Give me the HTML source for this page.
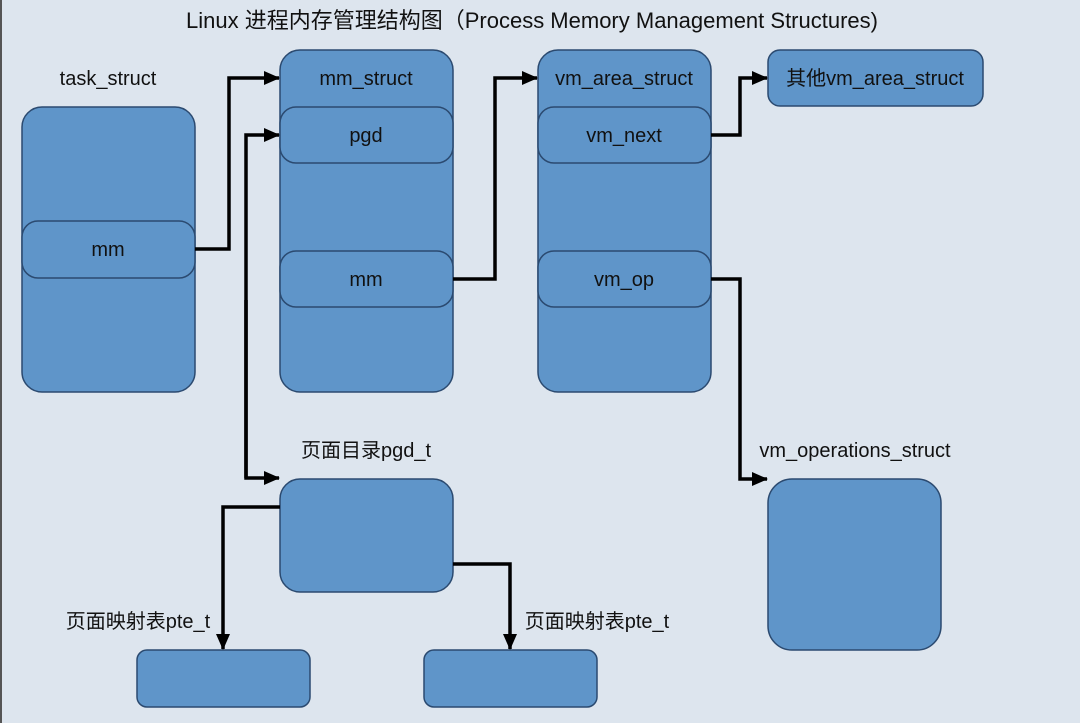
<!DOCTYPE html>
<html><head><meta charset="utf-8"><style>
body{margin:0;background:#dde5ee;}
svg{display:block}
text{font-family:"Liberation Sans","Noto Sans CJK SC",sans-serif;fill:#111;font-size:20px}
.b{fill:#5f95c9;stroke:#2b4a70;stroke-width:1.5}
</style></head><body>
<svg width="1080" height="723" viewBox="0 0 1080 723">
<defs><marker id="a" markerWidth="10" markerHeight="10" refX="9" refY="5" orient="auto" markerUnits="userSpaceOnUse" viewBox="0 0 10 10"><path d="M0,0L10,5L0,10z" fill="#000"/></marker>
<marker id="h" markerWidth="16" markerHeight="16" refX="15" refY="8" orient="auto" markerUnits="userSpaceOnUse" viewBox="0 0 16 16"><path d="M0,1L16,8L0,15z" fill="#000"/></marker></defs>
<rect x="0" y="0" width="1080" height="723" fill="#dde5ee"/>
<line x1="1" y1="0" x2="1" y2="723" stroke="#555" stroke-width="2"/>
<text x="532" y="28" text-anchor="middle" font-size="22" style="font-size:22px">Linux 进程内存管理结构图（Process Memory Management Structures)</text>
<text x="108" y="85" text-anchor="middle">task_struct</text>
<rect class="b" x="22" y="107" width="173" height="285" rx="20"/>
<rect class="b" x="22" y="221" width="173" height="57" rx="16"/>
<text x="108" y="256" text-anchor="middle">mm</text>
<rect class="b" x="280" y="50" width="173" height="342" rx="20"/>
<text x="366" y="85" text-anchor="middle">mm_struct</text>
<rect class="b" x="280" y="107" width="173" height="56" rx="16"/>
<text x="366" y="142" text-anchor="middle">pgd</text>
<rect class="b" x="280" y="251" width="173" height="56" rx="16"/>
<text x="366" y="286" text-anchor="middle">mm</text>
<rect class="b" x="538" y="50" width="173" height="342" rx="20"/>
<text x="624" y="85" text-anchor="middle">vm_area_struct</text>
<rect class="b" x="538" y="107" width="173" height="56" rx="16"/>
<text x="624" y="142" text-anchor="middle">vm_next</text>
<rect class="b" x="538" y="251" width="173" height="56" rx="16"/>
<text x="624" y="286" text-anchor="middle">vm_op</text>
<rect class="b" x="768" y="50" width="215" height="56" rx="12"/>
<text x="875" y="85" text-anchor="middle">其他vm_area_struct</text>
<text x="366" y="457" text-anchor="middle">页面目录pgd_t</text>
<rect class="b" x="280" y="479" width="173" height="113" rx="20"/>
<text x="138" y="628" text-anchor="middle">页面映射表pte_t</text>
<text x="597" y="628" text-anchor="middle">页面映射表pte_t</text>
<rect class="b" x="137" y="650" width="173" height="57" rx="10"/>
<rect class="b" x="424" y="650" width="173" height="57" rx="10"/>
<text x="855" y="457" text-anchor="middle">vm_operations_struct</text>
<rect class="b" x="768" y="479" width="173" height="171" rx="24"/>
<g fill="none" stroke="#000" stroke-width="3.5" marker-end="url(#h)">
<path d="M195,249H229V78H279"/>
<path d="M246,478V135H279"/>
<path d="M246,300V478H279"/>
<path d="M453,279H495V78H537"/>
<path d="M711,135H740V78H767"/>
<path d="M711,279H740V479H767"/>
<path d="M280,507H223V649"/>
<path d="M453,564H510V649"/>
</g>
</svg>
</body></html>
